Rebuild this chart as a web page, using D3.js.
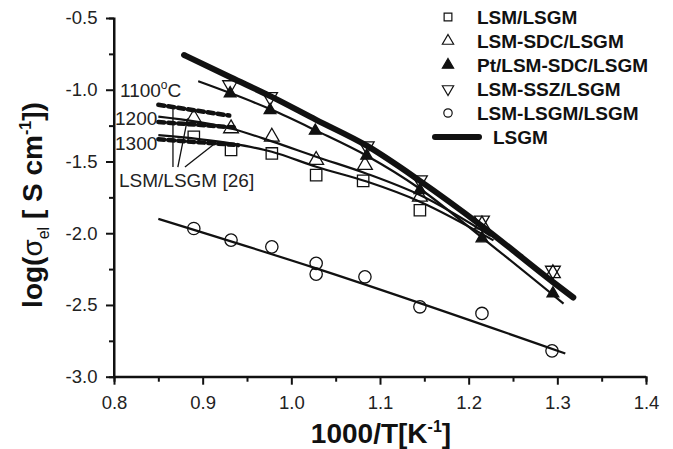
<!DOCTYPE html>
<html>
<head>
<meta charset="utf-8">
<script src="https://cdn.jsdelivr.net/npm/d3@7"></script>
<style>
  body { margin: 0; background: #fff; }
  text { font-family: "Liberation Sans", Arial, sans-serif; }
</style>
</head>
<body>
<svg id="chart" width="673" height="449"></svg>
<script>
// measured points
const lsmLsgm = [[0.890, -1.328], [0.932, -1.42], [0.978, -1.444], [1.028, -1.595], [1.081, -1.635], [1.145, -1.84]]
const lsmSdc = [[0.890, -1.197], [0.932, -1.27], [0.978, -1.328], [1.028, -1.49], [1.083, -1.525], [1.145, -1.746], [1.215, -1.94], [1.295, -2.28]]
const ptLsmSdc = [[0.931, -1.025], [0.976, -1.142], [1.027, -1.286], [1.085, -1.46], [1.145, -1.70], [1.215, -2.036], [1.295, -2.42]]
const lsmSsz = [[0.931, -0.967], [0.976, -1.05], [1.085, -1.393], [1.145, -1.63], [1.215, -1.91], [1.295, -2.26]]
const lsmLsgmComp = [[0.890, -1.967], [0.932, -2.048], [0.978, -2.095], [1.028, -2.21], [1.028, -2.285], [1.083, -2.304], [1.145, -2.513], [1.215, -2.559], [1.294, -2.82]]

// fitted curves
const fitSquare = [[0.85, -1.316], [0.932, -1.374], [0.978, -1.432], [1.028, -1.537], [1.085, -1.64], [1.145, -1.78], [1.228, -2.05]]
const fitSdc = [[0.85, -1.188], [0.932, -1.27], [0.978, -1.36], [1.028, -1.467], [1.085, -1.585], [1.145, -1.734], [1.225, -2.02]]
const fitPt = [[0.895, -0.94], [0.932, -1.025], [0.978, -1.14], [1.028, -1.285], [1.085, -1.46], [1.145, -1.69], [1.215, -2.03], [1.307, -2.49]]
const fitComp = [[0.85, -1.9], [1.028, -2.245], [1.309, -2.838]]
const lsgmLine = [[0.879, -0.758], [0.932, -0.915], [0.978, -1.05], [1.028, -1.21], [1.085, -1.39], [1.145, -1.635], [1.215, -1.95], [1.295, -2.34], [1.318, -2.448]]

// literature [26], dashed
const ref1100 = [[0.85, -1.105], [0.93, -1.18]]
const ref1200 = [[0.85, -1.225], [0.935, -1.262]]
const ref1300 = [[0.85, -1.345], [0.94, -1.386]]

const xTicks = [0.8, 0.9, 1.0, 1.1, 1.2, 1.3, 1.4]
const yTicks = [-0.5, -1.0, -1.5, -2.0, -2.5, -3.0]
const legendNames = ["LSM/LSGM", "LSM-SDC/LSGM", "Pt/LSM-SDC/LSGM", "LSM-SSZ/LSGM", "LSM-LSGM/LSGM", "LSGM"]

const svg = d3.select("#chart")
const x = d3.scaleLinear().domain([0.8, 1.4]).range([114, 646])
const y = d3.scaleLinear().domain([-3.0, -0.5]).range([376.7, 18])

// axes
const fmt = d => d.toFixed(1)
const xAxis = d3.axisBottom(x).tickValues(xTicks).tickFormat(fmt).tickSizeOuter(0).tickSize(8)
const yAxis = d3.axisLeft(y).tickValues(yTicks).tickFormat(fmt).tickSizeOuter(0).tickSize(8)
const xMinor = d3.axisBottom(x).tickValues(d3.range(0.85, 1.4, 0.1)).tickFormat("").tickSizeOuter(0).tickSize(5)
const yMinor = d3.axisLeft(y).tickValues(d3.range(-2.75, -0.5, 0.5)).tickFormat("").tickSizeOuter(0).tickSize(5)

const gx = svg.append("g").attr("transform", "translate(0,376.7)").call(xAxis)
svg.append("g").attr("transform", "translate(0,376.7)").call(xMinor)
const gy = svg.append("g").attr("transform", "translate(114,0)").call(yAxis)
svg.append("g").attr("transform", "translate(114,0)").call(yMinor)
svg.selectAll(".domain, .tick line").attr("stroke", "#111").attr("stroke-width", 2)
gx.selectAll("text").attr("font-size", 18.5).attr("fill", "#222").attr("dy", "1.15em")
gy.selectAll("text").attr("font-size", 18.5).attr("fill", "#222").attr("dx", "-0.3em")
gx.select(".domain").attr("d", "M114,0H646")
gy.select(".domain").attr("d", "M0,376.7V18")

// axis titles
const xt = svg.append("text").attr("x", 381).attr("y", 443).attr("text-anchor", "middle")
  .attr("font-size", 28).attr("font-weight", "bold").attr("fill", "#111")
xt.append("tspan").text("1000/T[K")
xt.append("tspan").attr("font-size", 16).attr("dy", -11).text("-1")
xt.append("tspan").attr("dy", 11).text("]")

const yt = svg.append("text").attr("transform", "translate(42,205) rotate(-90)").attr("text-anchor", "middle")
  .attr("font-size", 28).attr("font-weight", "bold").attr("fill", "#111")
yt.append("tspan").text("log(")
yt.append("tspan").attr("font-weight", "normal").text("σ")
yt.append("tspan").attr("font-size", 16).attr("font-weight", "normal").attr("dy", 7).text("el")
yt.append("tspan").attr("dy", -7).text(" [ S cm")
yt.append("tspan").attr("font-size", 16).attr("dy", -11).text("-1")
yt.append("tspan").attr("dy", 11).text("])")

// lines
const line = d3.line().x(d => x(d[0])).y(d => y(d[1])).curve(d3.curveMonotoneX)
const plot = svg.append("g")
for (const r of [ref1100, ref1200, ref1300]) {
  plot.append("path").attr("d", line(r)).attr("fill", "none").attr("stroke", "#111")
    .attr("stroke-width", 4.5).attr("stroke-dasharray", "6,4").attr("stroke-linecap", "round")
}
for (const f of [fitSquare, fitSdc, fitPt, fitComp]) {
  plot.append("path").attr("d", line(f)).attr("fill", "none").attr("stroke", "#111").attr("stroke-width", 2.2)
}
plot.append("path").attr("d", line(lsgmLine)).attr("fill", "none").attr("stroke", "#111")
  .attr("stroke-width", 6).attr("stroke-linecap", "round")

// markers
const tri = (s) => d3.symbol(d3.symbolTriangle, s)()
function markers(data, kind) {
  const g = plot.append("g")
  g.selectAll("path").data(data).enter().append("path")
    .attr("transform", d => `translate(${x(d[0])},${y(d[1])})` + (kind == "down" ? " rotate(180)" : ""))
    .attr("d", kind == "square" ? d3.symbol(d3.symbolSquare, 130)()
      : kind == "circle" ? d3.symbol(d3.symbolCircle, 120)()
      : kind == "filled" ? tri(60) : tri(95))
    .attr("fill", kind == "filled" ? "#111" : "none")
    .attr("stroke", "#111").attr("stroke-width", 1.3)
}
markers(lsmLsgm, "square")
markers(lsmSdc, "up")
markers(ptLsmSdc, "filled")
markers(lsmSsz, "down")
markers(lsmLsgmComp, "circle")

// annotation for [26]
const ann = svg.append("g").attr("font-size", 19).attr("fill", "#222")
const t1 = ann.append("text").attr("x", 120).attr("y", 97)
t1.append("tspan").text("1100")
t1.append("tspan").attr("font-size", 12).attr("dy", -8).text("o")
t1.append("tspan").attr("dy", 8).text("C")
ann.append("text").attr("x", 115).attr("y", 125).text("1200")
ann.append("text").attr("x", 115).attr("y", 150).text("1300")
ann.append("text").attr("x", 119).attr("y", 187).text("LSM/LSGM [26]")
const leaders = [[[0.8665, -1.539], [0.8665, -1.114]], [[0.872, -1.539], [0.883, -1.2]], [[0.880, -1.539], [0.912, -1.384]]]
for (const l of leaders) {
  svg.append("path").attr("d", d3.line().x(d => x(d[0])).y(d => y(d[1]))(l))
    .attr("stroke", "#111").attr("stroke-width", 1.3).attr("fill", "none")
}

// legend
const leg = svg.append("g")
const legKinds = ["square", "up", "filled", "down", "circle"]
legendNames.forEach((name, i) => {
  const cy = 17 + i * 24
  const k = legKinds[i]
  if (k) {
    leg.append("path").attr("transform", `translate(448,${cy})` + (k == "down" ? " rotate(180)" : ""))
      .attr("d", k == "square" ? d3.symbol(d3.symbolSquare, 60)() : k == "circle" ? d3.symbol(d3.symbolCircle, 55)() : tri(55))
      .attr("fill", k == "filled" ? "#111" : "none").attr("stroke", "#111").attr("stroke-width", 1.2)
    leg.append("text").attr("x", 477).attr("y", cy + 7).attr("font-size", 19).attr("font-weight", "bold").attr("fill", "#111").text(name)
  } else {
    leg.append("line").attr("x1", 435).attr("x2", 479).attr("y1", cy).attr("y2", cy)
      .attr("stroke", "#111").attr("stroke-width", 6).attr("stroke-linecap", "round")
    leg.append("text").attr("x", 493).attr("y", cy + 7).attr("font-size", 19).attr("font-weight", "bold").attr("fill", "#111").text(name)
  }
})
</script>
</body>
</html>
